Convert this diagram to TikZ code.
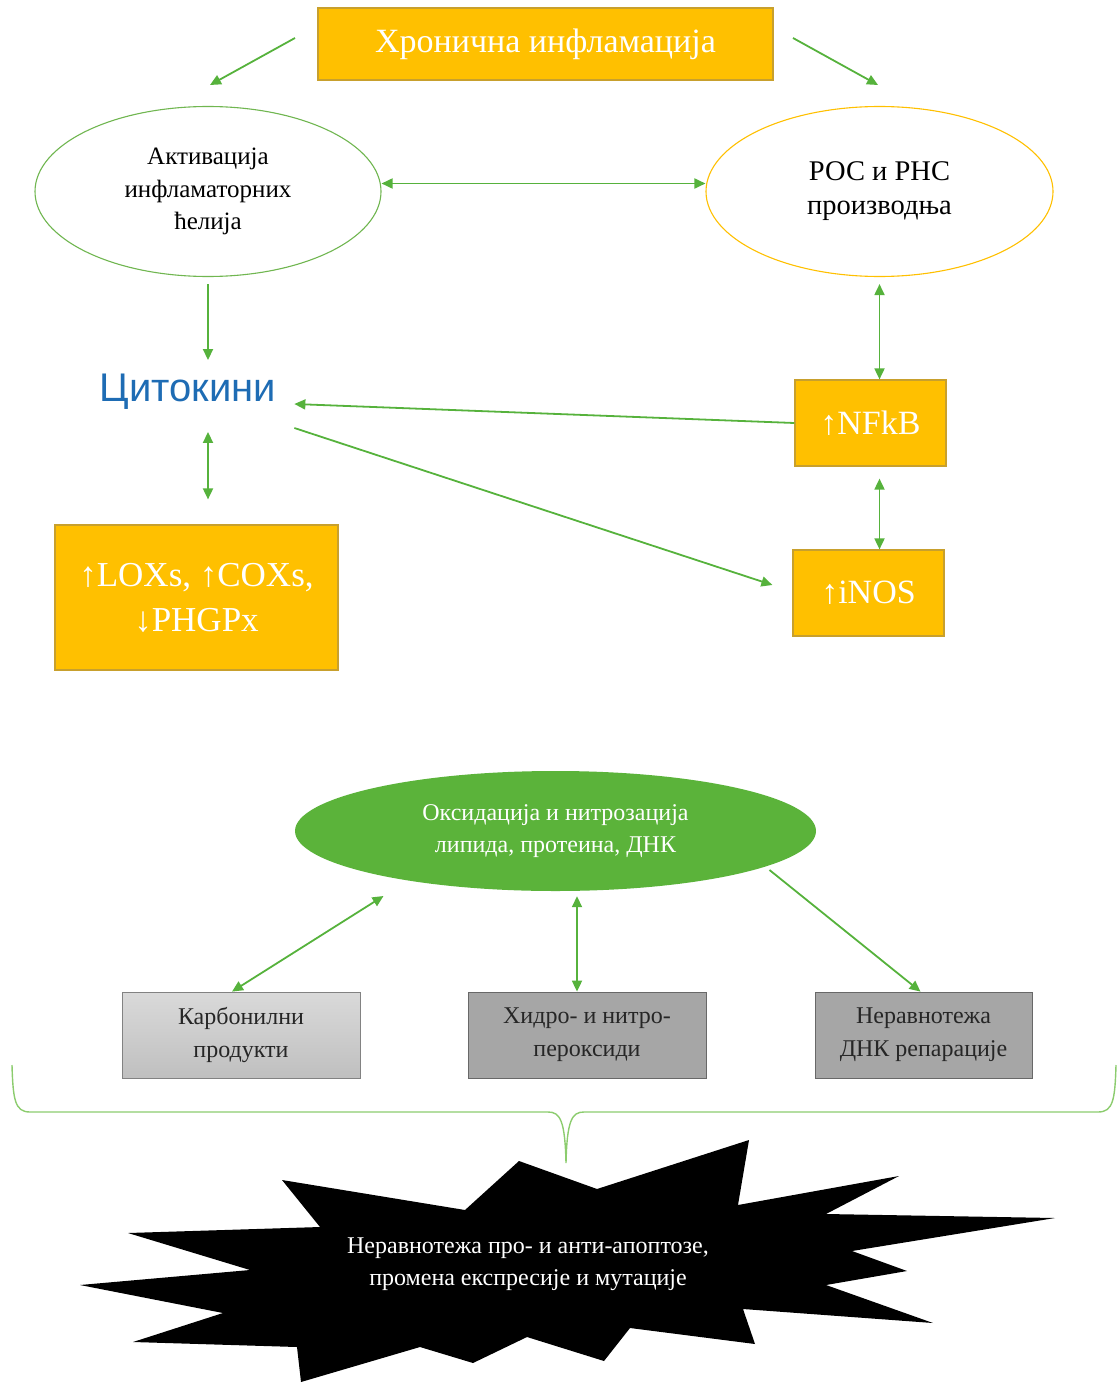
\documentclass[tikz,border=0pt]{standalone}
\usepackage{fontspec}
\setmainfont{Liberation Serif}
\newfontfamily\condserif{Liberation Serif}
\newfontfamily\cytosans{Liberation Sans}
\usepackage{xcolor}
\definecolor{pathgold}{RGB}{255,192,0}
\definecolor{pathgoldedge}{RGB}{200,160,45}
\definecolor{pathgreen}{RGB}{86,178,60}
\definecolor{pathleaf}{RGB}{112,182,80}
\definecolor{pathfill}{RGB}{91,179,58}
\definecolor{pathbrace}{RGB}{140,204,110}
\definecolor{pathblue}{RGB}{30,108,180}
\definecolor{pathgraylight}{RGB}{208,208,208}
\definecolor{pathgraydark}{RGB}{166,166,166}
\definecolor{pathgrayedge}{RGB}{130,130,130}
\usepackage{tikz}
\usetikzlibrary{arrows.meta,positioning,shapes.geometric}
\tikzset{
  path box/.style={draw=pathgoldedge, fill=pathgold, line width=1.2pt, text=white, align=center, inner sep=0pt, font=\condserif\fontsize{34}{45}\selectfont},
  path oval/.style={draw, ellipse, line width=1.1pt, align=center, inner sep=0pt, fill=white},
  path gray/.style={draw=pathgrayedge, line width=0.8pt, align=center, minimum height=86pt, inner sep=0pt, text=black!85, font=\condserif\fontsize{24}{33}\selectfont},
  path edge/.style={-{Triangle[length=11pt, width=10pt]}, pathgreen, line width=1.8pt},
  path edge both/.style={{Triangle[length=11pt, width=10pt]}-{Triangle[length=11pt, width=10pt]}, pathgreen, line width=1.8pt},
}

\begin{document}
\begin{tikzpicture}[x=1pt, y=-1pt]
  \useasboundingbox (0,0) rectangle (1117,1383);
  % top row
  \node[path box, minimum width=455pt, minimum height=72pt, font=\condserif\fontsize{34}{40}\selectfont] (chronic) at (545.5,44) {Хронична инфламација};
  \node[path oval, draw=pathleaf, minimum width=346pt, minimum height=170pt, font=\condserif\fontsize{25}{32.5}\selectfont] (activ) at (208,191.5) {Активација\\инфламаторних\\ћелија};
  \node[path oval, draw=pathgold, minimum width=347pt, minimum height=170pt, font=\condserif\fontsize{28.5}{34}\selectfont] (rosrns) at (879.5,191.5) {РОС и РНС\\производња};
  \coordinate (chronicL) at (295,38);
  \coordinate (activT) at (210,85);
  \coordinate (chronicR) at (793,38);
  \coordinate (rosrnsT) at (878,85);
  \draw[path edge] (chronicL) -- (activT);
  \draw[path edge] (chronicR) -- (rosrnsT);
  \draw[path edge both] ([yshift=8pt]activ.east) -- ([yshift=8pt]rosrns.west);

  % middle
  \node[text=pathblue, inner sep=0pt, font=\cytosans\fontsize{40}{48}\selectfont] (cyto) at (188,392) {Цитокини};
  \node[path box, minimum width=151pt, minimum height=86pt] (nfkb) at (870.5,423) {↑NFkB};
  \node[path box, minimum width=151pt, minimum height=86pt] (inos) at (868.5,593) {↑iNOS};
  \node[path box, minimum width=283pt, minimum height=145pt, font=\condserif\fontsize{35}{45}\selectfont] (lox) at (196.5,597.5) {↑LOXs, ↑COXs,\\↓PHGPx};
  \draw[path edge] (activ.south) ++(0,7) -- ([yshift=14pt]activ.south |- cyto.north);
  \draw[path edge both] (rosrns.south) ++(0,7) -- (rosrns.south |- nfkb.north);
  \draw[path edge] (nfkb.west) -- ([xshift=18pt, yshift=-12pt]cyto.east);
  \draw[path edge] ([xshift=18pt, yshift=-36pt]cyto.east) -- ([xshift=-20pt, yshift=8pt]inos.west);
  \draw[path edge both] ([yshift=-12pt]rosrns.south |- nfkb.south) -- (rosrns.south |- inos.north);
  \draw[path edge both] ([xshift=20pt, yshift=-22pt]cyto.south) -- ([xshift=11.5pt, yshift=25pt]lox.north);

  % oxidation
  \node[ellipse, fill=pathfill, minimum width=521pt, minimum height=120pt, inner sep=0pt, align=center, text=white, font=\condserif\fontsize{24}{32}\selectfont] (oxid) at (555.5,831) {Оксидација и нитрозација\\липида, протеина, ДНК};
  \node[path gray, top color=pathgraylight!80!white, bottom color=pathgraylight!92!black, minimum width=238pt] (carb) at (241,1035) {Карбонилни\\продукти};
  \node[path gray, fill=pathgraydark, draw=pathgrayedge!80!black, minimum width=238pt] (hydro) at (587,1035) {Хидро- и нитро-\\пероксиди};
  \node[path gray, fill=pathgraydark, draw=pathgrayedge!80!black, minimum width=217pt] (repair) at (923.5,1035) {Неравнотежа\\ДНК репарације};
  \draw[path edge both] ([xshift=-172pt, yshift=-65pt]oxid.center) -- ([xshift=-9pt]carb.north);
  \draw[path edge both] ([xshift=21.5pt, yshift=-5pt]oxid.south) -- ([xshift=-10pt]hydro.north);
  \draw[path edge] ([xshift=214pt, yshift=-39pt]oxid.center) -- ([xshift=-3pt]repair.north);

  % brace
  \draw[pathbrace, line width=1.4pt] (12,1065) .. controls (13,1100) and (15,1112) .. (30,1112) -- (548,1112) .. controls (560,1112) and (565,1120) .. (566,1163) .. controls (567,1120) and (572,1112) .. (584,1112) -- (1098,1112) .. controls (1113,1112) and (1115,1100) .. (1116,1065);

  % burst
  \fill[black] (282,1180) -- (465,1210) -- (519,1161) -- (597,1189) -- (749,1140) -- (738,1205) -- (899,1176) -- (826,1214) -- (1055,1218) -- (852,1251) -- (907,1271) -- (826,1285) -- (933,1323) -- (743,1309) -- (755,1344) -- (630,1328) -- (604,1361) -- (527,1337) -- (473,1363) -- (420,1347) -- (301,1382) -- (297,1347) -- (133,1342) -- (223,1313) -- (80,1285) -- (250,1270) -- (128,1233) -- (320,1227) -- cycle;
  \node[text=white, align=center, font=\condserif\fontsize{24}{32}\selectfont] (apopt) at (528,1264) {Неравнотежа про- и анти-апоптозе,\\промена експресије и мутације};
\end{tikzpicture}
\end{document}
